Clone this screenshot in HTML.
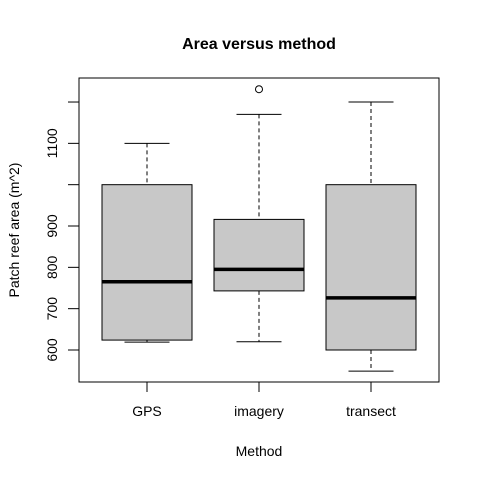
<!DOCTYPE html>
<html><head><meta charset="utf-8"><style>
body{margin:0;background:#fff}
svg text{font-family:"Liberation Sans",Arial,sans-serif;fill:#000}
</style></head><body>
<svg width="480" height="480" viewBox="0 0 480 480" xmlns="http://www.w3.org/2000/svg">
<rect x="79" y="78" width="360" height="304" fill="none" stroke="#000"/>
<text x="259" y="49" font-size="16" font-weight="bold" text-anchor="middle">Area versus method</text>
<text x="259" y="456" font-size="14" text-anchor="middle">Method</text>
<text transform="translate(19,230) rotate(-90)" font-size="14" text-anchor="middle">Patch reef area (m^2)</text>
<g id="axes"></g>
<g id="boxes"></g>
</svg>
<script>
const categories=["GPS","imagery","transect"];
const whiskerLow=[619,620,549];
const q1=[624,743,600];
const medians=[765,795,726];
const q3=[1000,916,1000];
const whiskerHigh=[1100,1170,1200];
const outliers=[[],[1231],[]];
const yTicks=[600,700,800,900,1000,1100,1200];
const yTickLabels=["600","700","800","900","","1100",""];
const NS="http://www.w3.org/2000/svg";
function y(v){return 350-(v-600)*0.4133;}
function x(i){return 147+112*i;}
function mk(tag,attrs,parent){const e=document.createElementNS(NS,tag);for(const k in attrs)e.setAttribute(k,attrs[k]);parent.appendChild(e);return e;}
const ax=document.getElementById('axes');
const yl=mk('line',{x1:79,x2:79,y1:y(yTicks[0]),y2:y(yTicks[yTicks.length-1]),stroke:'#000'},ax);


yTicks.forEach((t,i)=>{
 const l=mk('line',{x1:68,x2:79,y1:y(t),y2:y(t),stroke:'#000'},ax);
 
 
 if(yTickLabels[i]){
  const tx=mk('text',{transform:`translate(57,${y(t)}) rotate(-90)`,'font-size':'14','text-anchor':'middle'},ax);
  tx.textContent=yTickLabels[i];
  
  
 }
});
const xl=mk('line',{x1:x(0),x2:x(2),y1:382,y2:382,stroke:'#000'},ax);


const bx=document.getElementById('boxes');
categories.forEach((c,i)=>{
 const cx=x(i),hw=45,cw=22.5;
 const g=mk('g',{},bx);
 
 
 const tk=mk('line',{x1:cx,x2:cx,y1:382,y2:392,stroke:'#000'},ax);
 
 
 const tl=mk('text',{x:cx,y:416,'font-size':'14','text-anchor':'middle'},ax);
 tl.textContent=c;
 
 
 mk('line',{x1:cx,x2:cx,y1:y(whiskerHigh[i]),y2:y(q3[i]),stroke:'#000','stroke-dasharray':'4,3'},g);
 mk('line',{x1:cx,x2:cx,y1:y(q1[i]),y2:y(whiskerLow[i]),stroke:'#000','stroke-dasharray':'4,3'},g);
 mk('line',{x1:cx-cw,x2:cx+cw,y1:y(whiskerHigh[i]),y2:y(whiskerHigh[i]),stroke:'#000'},g);
 mk('line',{x1:cx-cw,x2:cx+cw,y1:y(whiskerLow[i]),y2:y(whiskerLow[i]),stroke:'#000'},g);
 mk('rect',{x:cx-hw,y:y(q3[i]),width:2*hw,height:y(q1[i])-y(q3[i]),fill:'#c8c8c8',stroke:'#000'},g);
 mk('line',{x1:cx-hw,x2:cx+hw,y1:y(medians[i]),y2:y(medians[i]),stroke:'#000','stroke-width':3.5},g);
 outliers[i].forEach(o=>{
  const p=mk('circle',{cx:cx,cy:y(o),r:3.5,fill:'none',stroke:'#000'},g);
  
  
 });
});
</script>
</body></html>
